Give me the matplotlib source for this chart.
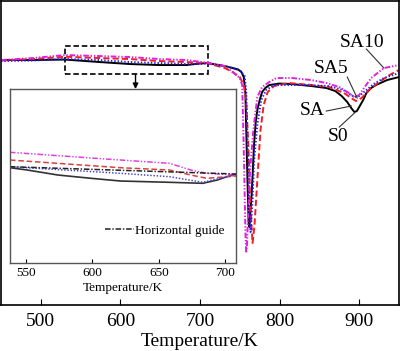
import numpy as np
import matplotlib
matplotlib.use('Agg')
import matplotlib.pyplot as plt
from matplotlib.patches import Rectangle

plt.rcParams['font.family'] = ['Liberation Serif', 'DejaVu Serif']
plt.rcParams['lines.scale_dashes'] = False

# DSC curves (temperature K, heat flow a.u.)
t_s0 = [450, 490, 530, 574, 612, 649, 683, 699, 709, 731, 741, 748, 752, 755, 757, 759,
        761, 762, 763.5, 765, 768, 770, 772, 775, 778, 782, 787, 800, 816, 840, 859, 870,
        878, 885, 890, 894, 897, 900, 905, 909, 915, 921, 935, 950]
hf_s0 = [0.00, 0.00, 0.005, -0.02, -0.04, -0.05, -0.05, -0.035, -0.03, -0.06, -0.08, -0.095,
         -0.12, -0.17, -0.33, -1.00, -1.62, -1.67, -1.50, -1.33, -0.83, -0.62, -0.50, -0.40,
         -0.32, -0.28, -0.25, -0.235, -0.24, -0.26, -0.28, -0.31, -0.36, -0.42, -0.48, -0.52,
         -0.51, -0.47, -0.40, -0.33, -0.28, -0.25, -0.20, -0.17]

t_sa = [450, 490, 530, 574, 612, 649, 683, 699, 709, 731, 741, 750, 755, 758, 761, 763, 766,
        768.5, 772, 776, 780, 785, 793, 812, 840, 862, 881, 890, 896, 903, 912, 925, 938, 950]
hf_sa = [-0.005, 0.01, 0.033, 0.02, 0.01, -0.01, -0.02, -0.027, -0.03, -0.08, -0.12, -0.17,
         -0.25, -0.40, -0.90, -1.40, -1.83, -1.65, -1.20, -0.70, -0.45, -0.32, -0.26, -0.23,
         -0.25, -0.27, -0.33, -0.38, -0.41, -0.38, -0.30, -0.22, -0.15, -0.10]

t_sa5 = [450, 490, 530, 574, 612, 649, 683, 699, 709, 731, 741, 750, 756, 758, 760, 762,
         763.5, 766, 768, 772, 777, 783, 793, 830, 862, 880, 894, 900, 906, 918, 931, 950]
hf_sa5 = [-0.01, -0.005, 0.01, 0.0, -0.02, -0.03, -0.04, -0.04, -0.035, -0.06, -0.08, -0.10,
          -0.16, -0.30, -0.90, -1.50, -1.72, -1.40, -1.00, -0.65, -0.40, -0.30, -0.25, -0.25,
          -0.26, -0.30, -0.37, -0.36, -0.32, -0.24, -0.18, -0.13]

t_sa10 = [450, 490, 530, 574, 612, 649, 683, 709, 731, 741, 750, 753, 755, 757, 758, 759,
          760.5, 763, 767, 772, 778, 787, 796, 816, 840, 859, 875, 885, 894, 900, 906, 915,
          931, 950]
hf_sa10 = [0.0, 0.02, 0.05, 0.04, 0.03, 0.01, 0.0, -0.027, -0.06, -0.12, -0.18, -0.25, -0.90,
           -1.70, -1.93, -1.85, -1.53, -1.10, -0.70, -0.37, -0.27, -0.22, -0.18, -0.18, -0.20,
           -0.23, -0.27, -0.32, -0.37, -0.35, -0.28, -0.18, -0.08, -0.05]

# magnified view 538-708 K (inset)
it_s0 = [538, 551, 574, 599, 621, 658, 683, 694, 701, 708]
ihf_s0 = [0.023, 0.0, -0.05, -0.083, -0.11, -0.123, -0.133, -0.10, -0.067, -0.043]
it_sa = [538, 621, 658, 674, 686, 708]
ihf_sa = [0.10, 0.023, 0.0, -0.05, -0.083, -0.06]
it_sa5 = [538, 621, 658, 683, 696, 708]
ihf_sa5 = [0.033, -0.033, -0.067, -0.123, -0.083, -0.05]
it_sa10 = [538, 621, 658, 674, 686, 708]
ihf_sa10 = [0.177, 0.10, 0.067, 0.0, -0.033, -0.05]
guide_t = [538, 708]
guide_hf = [0.033, -0.04]

styles = {
    'S0': dict(color='black', lw=1.4, ls='-'),
    'SA': dict(color='#ee2020', lw=1.4, dashes=(4.5, 2.2)),
    'SA5': dict(color='#1a1aff', lw=1.4, dashes=(1.0, 1.4)),
    'SA10': dict(color='#e020e0', lw=1.4, dashes=(4, 1.3, 1, 1.3, 1, 1.3)),
}

fig = plt.figure(figsize=(4.0, 3.51), dpi=100)
ax = fig.add_axes([0.0025, 0.131, 0.995, 0.866])

ax.plot(t_s0, hf_s0, **styles['S0'])
ax.plot(t_sa, hf_sa, **styles['SA'])
ax.plot(t_sa5, hf_sa5, **styles['SA5'])
ax.plot(t_sa10, hf_sa10, **styles['SA10'])

ax.set_xlim(450, 950)
ax.set_ylim(-2.45, 0.59)
ax.set_xticks([500, 600, 700, 800, 900])
ax.set_yticks([])
ax.tick_params(axis='x', direction='in', length=4, labelsize=14, pad=6)
ax.set_xlabel('Temperature/K', fontsize=14, labelpad=2)
for s in ax.spines.values():
    s.set_linewidth(1.2)

# labels with leader lines
labels = [('SA10', 904, 0.18, (909, 931), (0.11, -0.08)),
          ('SA5', 865, -0.08, (885, 897.5), (-0.17, -0.38)),
          ('SA', 841, -0.50, (858.6, 890), (-0.51, -0.46)),
          ('S0', 874, -0.76, (875, 894), (-0.67, -0.53))]
for name, tx, ty, lx, ly in labels:
    ax.text(tx, ty, name, fontsize=14, ha='center', va='center')
    ax.plot(lx, ly, color='#333333', lw=0.8)

# zoom box + arrow to inset
ax.add_patch(Rectangle((530, -0.14), 179.5, 0.28, fill=False, ec='black',
                       lw=1.2, ls=(0, (4, 2))))
ax.annotate('', xy=(619, -0.29), xytext=(619, -0.14),
            arrowprops=dict(arrowstyle='-|>', color='black', lw=1,
                            mutation_scale=8, shrinkA=0, shrinkB=0))

# inset
axi = fig.add_axes([0.025, 0.2507, 0.565, 0.4957])
axi.set_facecolor('white')
axi.plot(it_s0, ihf_s0, color='#333333', lw=1.2)
axi.plot(it_sa, ihf_sa, color='#d84040', lw=1.1, dashes=(4, 2))
axi.plot(it_sa5, ihf_sa5, color='#4040e0', lw=1.1, dashes=(1, 1.3))
axi.plot(it_sa10, ihf_sa10, color='#e040e0', lw=1.1, dashes=(4, 1.3, 1, 1.3, 1, 1.3))
axi.plot(guide_t, guide_hf, color='#222222', lw=1.1, dashes=(4, 1.3, 1, 1.3),
         label='Horizontal guide')
axi.set_xlim(538, 708)
axi.set_ylim(-0.93, 0.81)
axi.set_xticks([550, 600, 650, 700])
axi.set_yticks([])
axi.tick_params(axis='x', direction='in', length=3, labelsize=9.5, pad=3)
axi.set_xlabel('Temperature/K', fontsize=9.5, labelpad=2)
for s in axi.spines.values():
    s.set_color('#555555')
    s.set_linewidth(1.0)
axi.legend(loc='center left', bbox_to_anchor=(0.42, 0.184), frameon=False,
           fontsize=9.5, handlelength=2.2, handletextpad=0.1, borderpad=0,
           borderaxespad=0)

fig.savefig('out.png', dpi=100)
